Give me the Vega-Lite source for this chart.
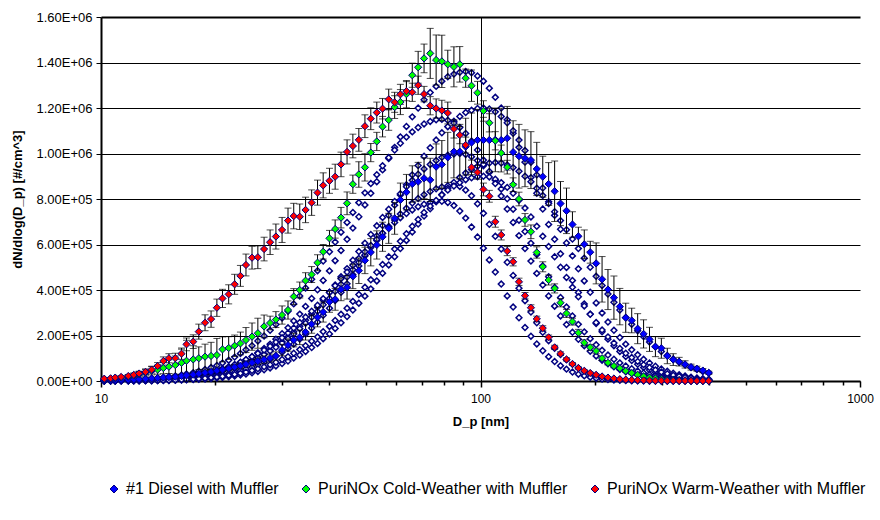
{
"$schema":"https://vega.github.io/schema/vega-lite/v6.json",
"width":759,"height":364,
"autosize":{"type":"none"},
"padding":{"left":101,"top":17,"right":20,"bottom":139},
"background":"white",
"config":{"font":"Liberation Sans","view":{"stroke":null},"axis":{"domainColor":"black","tickColor":"black","labelColor":"black","titleColor":"black","labelFont":"Liberation Sans","titleFont":"Liberation Sans"}},
"datasets":{
"filled":[
{"Dp":10.2,"s":"D","N":3000,"err":2500},{"Dp":10.6,"s":"D","N":3500,"err":2500},{"Dp":10.9,"s":"D","N":4000,"err":2600},{"Dp":11.3,"s":"D","N":5000,"err":2800},{"Dp":11.8,"s":"D","N":6000,"err":2900},{"Dp":12.2,"s":"D","N":7000,"err":3100},{"Dp":12.6,"s":"D","N":8000,"err":3200},{"Dp":13.1,"s":"D","N":9500,"err":3400},{"Dp":13.6,"s":"D","N":11000,"err":3700},{"Dp":14.1,"s":"D","N":13000,"err":4000},{"Dp":14.6,"s":"D","N":15000,"err":4300},{"Dp":15.1,"s":"D","N":17000,"err":4600},{"Dp":15.7,"s":"D","N":19000,"err":4900},{"Dp":16.3,"s":"D","N":22000,"err":5300},{"Dp":16.8,"s":"D","N":25000,"err":5800},{"Dp":17.5,"s":"D","N":28000,"err":6200},{"Dp":18.1,"s":"D","N":32000,"err":6800},{"Dp":18.8,"s":"D","N":36000,"err":7400},{"Dp":19.5,"s":"D","N":40000,"err":8000},{"Dp":20.2,"s":"D","N":45000,"err":8800},{"Dp":20.9,"s":"D","N":50000,"err":9500},{"Dp":21.7,"s":"D","N":55000,"err":10000},{"Dp":22.5,"s":"D","N":61000,"err":11000},{"Dp":23.3,"s":"D","N":67000,"err":12000},{"Dp":24.1,"s":"D","N":74000,"err":13000},{"Dp":25,"s":"D","N":80000,"err":14000},{"Dp":25.9,"s":"D","N":87000,"err":15000},{"Dp":26.9,"s":"D","N":94000,"err":16000},{"Dp":27.9,"s":"D","N":101000,"err":17000},{"Dp":28.9,"s":"D","N":110000,"err":18000},{"Dp":30,"s":"D","N":136000,"err":25000},{"Dp":31.1,"s":"D","N":158000,"err":27000},{"Dp":32.2,"s":"D","N":180000,"err":30000},{"Dp":33.4,"s":"D","N":192000,"err":32000},{"Dp":34.6,"s":"D","N":215000,"err":35000},{"Dp":35.9,"s":"D","N":250000,"err":40000},{"Dp":37.2,"s":"D","N":280000,"err":42000},{"Dp":38.5,"s":"D","N":303000,"err":44000},{"Dp":40,"s":"D","N":348000,"err":46000},{"Dp":41.4,"s":"D","N":359000,"err":48000},{"Dp":42.9,"s":"D","N":403000,"err":50000},{"Dp":44.5,"s":"D","N":412000,"err":52000},{"Dp":46.1,"s":"D","N":460000,"err":54000},{"Dp":47.8,"s":"D","N":485000,"err":56000},{"Dp":49.6,"s":"D","N":530000,"err":58000},{"Dp":51.4,"s":"D","N":566000,"err":60000},{"Dp":53.3,"s":"D","N":598000,"err":62000},{"Dp":55.2,"s":"D","N":634000,"err":64000},{"Dp":57.3,"s":"D","N":671000,"err":66000},{"Dp":59.4,"s":"D","N":715000,"err":70000},{"Dp":61.5,"s":"D","N":796000,"err":74000},{"Dp":63.8,"s":"D","N":830000,"err":78000},{"Dp":66.1,"s":"D","N":866000,"err":80000},{"Dp":68.5,"s":"D","N":876000,"err":85000},{"Dp":71,"s":"D","N":891000,"err":90000},{"Dp":73.7,"s":"D","N":884000,"err":95000},{"Dp":76.4,"s":"D","N":942000,"err":100000},{"Dp":79.1,"s":"D","N":952000,"err":105000},{"Dp":82,"s":"D","N":983000,"err":110000},{"Dp":85.1,"s":"D","N":1008000,"err":115000},{"Dp":88.2,"s":"D","N":1008000,"err":120000},{"Dp":91.4,"s":"D","N":1030000,"err":125000},{"Dp":94.7,"s":"D","N":1048000,"err":130000},{"Dp":98.2,"s":"D","N":1059000,"err":135000},{"Dp":101.8,"s":"D","N":1059000,"err":100000},{"Dp":105.5,"s":"D","N":1059000,"err":140000},{"Dp":109.4,"s":"D","N":1060000,"err":140000},{"Dp":113.4,"s":"D","N":1059000,"err":140000},{"Dp":117.6,"s":"D","N":1067000,"err":140000},{"Dp":121.9,"s":"D","N":1006000,"err":138000},{"Dp":126.3,"s":"D","N":988000,"err":140000},{"Dp":131,"s":"D","N":979000,"err":125000},{"Dp":135.8,"s":"D","N":971000,"err":125000},{"Dp":140.7,"s":"D","N":932000,"err":117000},{"Dp":145.9,"s":"D","N":898000,"err":90000},{"Dp":151.2,"s":"D","N":866000,"err":94000},{"Dp":156.8,"s":"D","N":834000,"err":133000},{"Dp":162.5,"s":"D","N":780000,"err":97000},{"Dp":168.5,"s":"D","N":748000,"err":100000},{"Dp":174.7,"s":"D","N":688000,"err":56000},{"Dp":181.1,"s":"D","N":636000,"err":40000},{"Dp":187.7,"s":"D","N":601000,"err":63000},{"Dp":194.6,"s":"D","N":566000,"err":48000},{"Dp":201.7,"s":"D","N":517000,"err":90000},{"Dp":209.1,"s":"D","N":447000,"err":100000},{"Dp":216.7,"s":"D","N":402000,"err":88000},{"Dp":224.7,"s":"D","N":366000,"err":95000},{"Dp":232.9,"s":"D","N":327000,"err":80000},{"Dp":241.4,"s":"D","N":278000,"err":64000},{"Dp":250.3,"s":"D","N":266000,"err":54000},{"Dp":259.5,"s":"D","N":230000,"err":66000},{"Dp":269,"s":"D","N":207000,"err":62000},{"Dp":278.8,"s":"D","N":183000,"err":53000},{"Dp":289,"s":"D","N":151000,"err":44000},{"Dp":299.6,"s":"D","N":144000,"err":44000},{"Dp":310.6,"s":"D","N":110000,"err":34000},{"Dp":322,"s":"D","N":94000,"err":26000},{"Dp":333.8,"s":"D","N":85000,"err":19000},{"Dp":346,"s":"D","N":73000,"err":16000},{"Dp":358.7,"s":"D","N":61000,"err":13000},{"Dp":371.8,"s":"D","N":54000,"err":11000},{"Dp":385.4,"s":"D","N":46000,"err":9000},{"Dp":399.5,"s":"D","N":36000,"err":7000},
{"Dp":10.2,"s":"C","N":8000,"err":3200},{"Dp":10.6,"s":"C","N":10000,"err":4000},{"Dp":10.9,"s":"C","N":12000,"err":4800},{"Dp":11.3,"s":"C","N":15000,"err":6000},{"Dp":11.8,"s":"C","N":19000,"err":7600},{"Dp":12.2,"s":"C","N":24000,"err":9600},{"Dp":12.6,"s":"C","N":30000,"err":12000},{"Dp":13.1,"s":"C","N":37000,"err":15000},{"Dp":13.6,"s":"C","N":45000,"err":18000},{"Dp":14.1,"s":"C","N":50000,"err":20000},{"Dp":14.6,"s":"C","N":57000,"err":25000},{"Dp":15.1,"s":"C","N":63000,"err":30000},{"Dp":15.7,"s":"C","N":70000,"err":40000},{"Dp":16.3,"s":"C","N":80000,"err":60000},{"Dp":16.8,"s":"C","N":89000,"err":90000},{"Dp":17.5,"s":"C","N":95000,"err":60000},{"Dp":18.1,"s":"C","N":100000,"err":50000},{"Dp":18.8,"s":"C","N":107000,"err":55000},{"Dp":19.5,"s":"C","N":110000,"err":60000},{"Dp":20.2,"s":"C","N":114000,"err":73000},{"Dp":20.9,"s":"C","N":139000,"err":55000},{"Dp":21.7,"s":"C","N":145000,"err":50000},{"Dp":22.5,"s":"C","N":155000,"err":47000},{"Dp":23.3,"s":"C","N":165000,"err":50000},{"Dp":24.1,"s":"C","N":180000,"err":55000},{"Dp":25,"s":"C","N":195000,"err":60000},{"Dp":25.9,"s":"C","N":210000,"err":66000},{"Dp":26.9,"s":"C","N":240000,"err":50000},{"Dp":27.9,"s":"C","N":255000,"err":30000},{"Dp":28.9,"s":"C","N":270000,"err":35000},{"Dp":30,"s":"C","N":290000,"err":40000},{"Dp":31.1,"s":"C","N":312000,"err":40000},{"Dp":32.2,"s":"C","N":371000,"err":35000},{"Dp":33.4,"s":"C","N":400000,"err":35000},{"Dp":34.6,"s":"C","N":441000,"err":35000},{"Dp":35.9,"s":"C","N":468000,"err":35000},{"Dp":37.2,"s":"C","N":520000,"err":35000},{"Dp":38.5,"s":"C","N":568000,"err":32000},{"Dp":40,"s":"C","N":627000,"err":35000},{"Dp":41.4,"s":"C","N":668000,"err":40000},{"Dp":42.9,"s":"C","N":718000,"err":45000},{"Dp":44.5,"s":"C","N":781000,"err":50000},{"Dp":46.1,"s":"C","N":865000,"err":40000},{"Dp":47.8,"s":"C","N":908000,"err":56000},{"Dp":49.6,"s":"C","N":939000,"err":60000},{"Dp":51.4,"s":"C","N":1004000,"err":40000},{"Dp":53.3,"s":"C","N":1053000,"err":40000},{"Dp":55.2,"s":"C","N":1118000,"err":45000},{"Dp":57.3,"s":"C","N":1147000,"err":45000},{"Dp":59.4,"s":"C","N":1204000,"err":50000},{"Dp":61.5,"s":"C","N":1226000,"err":55000},{"Dp":63.8,"s":"C","N":1261000,"err":60000},{"Dp":66.1,"s":"C","N":1344000,"err":53000},{"Dp":68.5,"s":"C","N":1379000,"err":70000},{"Dp":71,"s":"C","N":1418000,"err":63000},{"Dp":73.7,"s":"C","N":1440000,"err":110000},{"Dp":76.4,"s":"C","N":1411000,"err":110000},{"Dp":79.1,"s":"C","N":1405000,"err":115000},{"Dp":82,"s":"C","N":1392000,"err":62000},{"Dp":85.1,"s":"C","N":1381000,"err":88000},{"Dp":88.2,"s":"C","N":1392000,"err":78000},{"Dp":91.4,"s":"C","N":1331000,"err":40000},{"Dp":94.7,"s":"C","N":1298000,"err":69000},{"Dp":98.2,"s":"C","N":1267000,"err":50000},{"Dp":101.8,"s":"C","N":1187000,"err":45000},{"Dp":105.5,"s":"C","N":1135000,"err":40000},{"Dp":109.4,"s":"C","N":1056000,"err":40000},{"Dp":113.4,"s":"C","N":1002000,"err":35000},{"Dp":117.6,"s":"C","N":940000,"err":30000},{"Dp":121.9,"s":"C","N":863000,"err":30000},{"Dp":126.3,"s":"C","N":800000,"err":30000},{"Dp":131,"s":"C","N":708000,"err":28000},{"Dp":135.8,"s":"C","N":656000,"err":30000},{"Dp":140.7,"s":"C","N":565000,"err":25000},{"Dp":145.9,"s":"C","N":502000,"err":22000},{"Dp":151.2,"s":"C","N":444000,"err":22000},{"Dp":156.8,"s":"C","N":407000,"err":20000},{"Dp":162.5,"s":"C","N":344000,"err":18000},{"Dp":168.5,"s":"C","N":297000,"err":18000},{"Dp":174.7,"s":"C","N":261000,"err":15000},{"Dp":181.1,"s":"C","N":212000,"err":15000},{"Dp":187.7,"s":"C","N":168000,"err":13000},{"Dp":194.6,"s":"C","N":148000,"err":13000},{"Dp":201.7,"s":"C","N":132000,"err":12000},{"Dp":209.1,"s":"C","N":100000,"err":10000},{"Dp":216.7,"s":"C","N":80000,"err":9000},{"Dp":224.7,"s":"C","N":66000,"err":8000},{"Dp":232.9,"s":"C","N":56000,"err":7000},{"Dp":241.4,"s":"C","N":44000,"err":6000},{"Dp":250.3,"s":"C","N":35000,"err":5000},{"Dp":259.5,"s":"C","N":27000,"err":4000},{"Dp":269,"s":"C","N":20000,"err":3500},{"Dp":278.8,"s":"C","N":15000,"err":3000},{"Dp":289,"s":"C","N":11000,"err":2500},{"Dp":299.6,"s":"C","N":8000,"err":2000},{"Dp":310.6,"s":"C","N":6000,"err":1500},{"Dp":322,"s":"C","N":4500,"err":1200},{"Dp":333.8,"s":"C","N":3500,"err":1000},{"Dp":346,"s":"C","N":2500,"err":800},{"Dp":358.7,"s":"C","N":2000,"err":600},{"Dp":371.8,"s":"C","N":1500,"err":500},{"Dp":385.4,"s":"C","N":1000,"err":400},{"Dp":399.5,"s":"C","N":1000,"err":400},
{"Dp":10.2,"s":"W","N":10000,"err":3000},{"Dp":10.6,"s":"W","N":12000,"err":3600},{"Dp":10.9,"s":"W","N":15000,"err":4500},{"Dp":11.3,"s":"W","N":18000,"err":5400},{"Dp":11.8,"s":"W","N":22000,"err":6600},{"Dp":12.2,"s":"W","N":27000,"err":8100},{"Dp":12.6,"s":"W","N":33000,"err":9900},{"Dp":13.1,"s":"W","N":40000,"err":12000},{"Dp":13.6,"s":"W","N":50000,"err":15000},{"Dp":14.1,"s":"W","N":66000,"err":15000},{"Dp":14.6,"s":"W","N":88000,"err":18000},{"Dp":15.1,"s":"W","N":100000,"err":20000},{"Dp":15.7,"s":"W","N":100000,"err":22000},{"Dp":16.3,"s":"W","N":120000,"err":25000},{"Dp":16.8,"s":"W","N":161000,"err":28000},{"Dp":17.5,"s":"W","N":173000,"err":30000},{"Dp":18.1,"s":"W","N":217000,"err":33000},{"Dp":18.8,"s":"W","N":256000,"err":35000},{"Dp":19.5,"s":"W","N":272000,"err":36000},{"Dp":20.2,"s":"W","N":322000,"err":38000},{"Dp":20.9,"s":"W","N":363000,"err":40000},{"Dp":21.7,"s":"W","N":381000,"err":42000},{"Dp":22.5,"s":"W","N":425000,"err":44000},{"Dp":23.3,"s":"W","N":462000,"err":46000},{"Dp":24.1,"s":"W","N":510000,"err":48000},{"Dp":25,"s":"W","N":542000,"err":50000},{"Dp":25.9,"s":"W","N":544000,"err":50000},{"Dp":26.9,"s":"W","N":580000,"err":52000},{"Dp":27.9,"s":"W","N":610000,"err":54000},{"Dp":28.9,"s":"W","N":635000,"err":55000},{"Dp":30,"s":"W","N":664000,"err":55000},{"Dp":31.1,"s":"W","N":705000,"err":55000},{"Dp":32.2,"s":"W","N":725000,"err":56000},{"Dp":33.4,"s":"W","N":722000,"err":56000},{"Dp":34.6,"s":"W","N":752000,"err":56000},{"Dp":35.9,"s":"W","N":784000,"err":56000},{"Dp":37.2,"s":"W","N":828000,"err":55000},{"Dp":38.5,"s":"W","N":860000,"err":55000},{"Dp":40,"s":"W","N":880000,"err":55000},{"Dp":41.4,"s":"W","N":898000,"err":55000},{"Dp":42.9,"s":"W","N":952000,"err":54000},{"Dp":44.5,"s":"W","N":1007000,"err":53000},{"Dp":46.1,"s":"W","N":1033000,"err":52000},{"Dp":47.8,"s":"W","N":1060000,"err":50000},{"Dp":49.6,"s":"W","N":1120000,"err":50000},{"Dp":51.4,"s":"W","N":1153000,"err":48000},{"Dp":53.3,"s":"W","N":1180000,"err":46000},{"Dp":55.2,"s":"W","N":1197000,"err":45000},{"Dp":57.3,"s":"W","N":1238000,"err":45000},{"Dp":59.4,"s":"W","N":1225000,"err":44000},{"Dp":61.5,"s":"W","N":1260000,"err":44000},{"Dp":63.8,"s":"W","N":1274000,"err":42000},{"Dp":66.1,"s":"W","N":1269000,"err":40000},{"Dp":68.5,"s":"W","N":1300000,"err":40000},{"Dp":71,"s":"W","N":1261000,"err":34000},{"Dp":73.7,"s":"W","N":1210000,"err":40000},{"Dp":76.4,"s":"W","N":1198000,"err":42000},{"Dp":79.1,"s":"W","N":1189000,"err":45000},{"Dp":82,"s":"W","N":1178000,"err":48000},{"Dp":85.1,"s":"W","N":1108000,"err":40000},{"Dp":88.2,"s":"W","N":1081000,"err":38000},{"Dp":91.4,"s":"W","N":1037000,"err":35000},{"Dp":94.7,"s":"W","N":939000,"err":32000},{"Dp":98.2,"s":"W","N":917000,"err":30000},{"Dp":101.8,"s":"W","N":842000,"err":28000},{"Dp":105.5,"s":"W","N":812000,"err":26000},{"Dp":109.4,"s":"W","N":700000,"err":24000},{"Dp":113.4,"s":"W","N":642000,"err":22000},{"Dp":117.6,"s":"W","N":571000,"err":20000},{"Dp":121.9,"s":"W","N":524000,"err":18000},{"Dp":126.3,"s":"W","N":436000,"err":16000},{"Dp":131,"s":"W","N":375000,"err":14000},{"Dp":135.8,"s":"W","N":322000,"err":13000},{"Dp":140.7,"s":"W","N":273000,"err":12000},{"Dp":145.9,"s":"W","N":232000,"err":11000},{"Dp":151.2,"s":"W","N":192000,"err":10000},{"Dp":156.8,"s":"W","N":148000,"err":9000},{"Dp":162.5,"s":"W","N":120000,"err":8000},{"Dp":168.5,"s":"W","N":95000,"err":7000},{"Dp":174.7,"s":"W","N":75000,"err":6000},{"Dp":181.1,"s":"W","N":57000,"err":5000},{"Dp":187.7,"s":"W","N":45000,"err":4500},{"Dp":194.6,"s":"W","N":35000,"err":4000},{"Dp":201.7,"s":"W","N":27000,"err":3500},{"Dp":209.1,"s":"W","N":20000,"err":3000},{"Dp":216.7,"s":"W","N":15000,"err":2500},{"Dp":224.7,"s":"W","N":11000,"err":2000},{"Dp":232.9,"s":"W","N":8000,"err":1600},{"Dp":241.4,"s":"W","N":6000,"err":1200},{"Dp":250.3,"s":"W","N":4500,"err":900},{"Dp":259.5,"s":"W","N":3500,"err":700},{"Dp":269,"s":"W","N":2700,"err":500},{"Dp":278.8,"s":"W","N":2000,"err":400},{"Dp":289,"s":"W","N":1500,"err":300},{"Dp":299.6,"s":"W","N":1200,"err":240},{"Dp":310.6,"s":"W","N":1000,"err":200},{"Dp":322,"s":"W","N":800,"err":160},{"Dp":333.8,"s":"W","N":600,"err":120},{"Dp":346,"s":"W","N":500,"err":100},{"Dp":358.7,"s":"W","N":400,"err":80},{"Dp":371.8,"s":"W","N":300,"err":60},{"Dp":385.4,"s":"W","N":300,"err":60},{"Dp":399.5,"s":"W","N":200,"err":40}
],
"runs":[
{"Dp":10.2,"r":1,"N":1000},{"Dp":10.6,"r":1,"N":1200},{"Dp":10.9,"r":1,"N":1500},{"Dp":11.3,"r":1,"N":1900},{"Dp":11.8,"r":1,"N":2400},{"Dp":12.2,"r":1,"N":3000},{"Dp":12.6,"r":1,"N":3700},{"Dp":13.1,"r":1,"N":4600},{"Dp":13.6,"r":1,"N":5600},{"Dp":14.1,"r":1,"N":6900},{"Dp":14.6,"r":1,"N":8400},{"Dp":15.1,"r":1,"N":10300},{"Dp":15.7,"r":1,"N":12500},{"Dp":16.3,"r":1,"N":15100},{"Dp":16.8,"r":1,"N":18200},{"Dp":17.5,"r":1,"N":21900},{"Dp":18.1,"r":1,"N":26100},{"Dp":18.8,"r":1,"N":31000},{"Dp":19.5,"r":1,"N":36900},{"Dp":20.2,"r":1,"N":43400},{"Dp":20.9,"r":1,"N":51000},{"Dp":21.7,"r":1,"N":59700},{"Dp":22.5,"r":1,"N":69600},{"Dp":23.3,"r":1,"N":81100},{"Dp":24.1,"r":1,"N":93800},{"Dp":25,"r":1,"N":108000},{"Dp":25.9,"r":1,"N":124000},{"Dp":26.9,"r":1,"N":143000},{"Dp":27.9,"r":1,"N":162000},{"Dp":28.9,"r":1,"N":184000},{"Dp":30,"r":1,"N":208000},{"Dp":31.1,"r":1,"N":234000},{"Dp":32.2,"r":1,"N":264000},{"Dp":33.4,"r":1,"N":294000},{"Dp":34.6,"r":1,"N":328000},{"Dp":35.9,"r":1,"N":363000},{"Dp":37.2,"r":1,"N":401000},{"Dp":38.5,"r":1,"N":442000},{"Dp":40,"r":1,"N":484000},{"Dp":41.4,"r":1,"N":529000},{"Dp":42.9,"r":1,"N":574000},{"Dp":44.5,"r":1,"N":623000},{"Dp":46.1,"r":1,"N":672000},{"Dp":47.8,"r":1,"N":722000},{"Dp":49.6,"r":1,"N":774000},{"Dp":51.4,"r":1,"N":825000},{"Dp":53.3,"r":1,"N":876000},{"Dp":55.2,"r":1,"N":928000},{"Dp":57.3,"r":1,"N":978000},{"Dp":59.4,"r":1,"N":1027000},{"Dp":61.5,"r":1,"N":1073000},{"Dp":63.8,"r":1,"N":1119000},{"Dp":66.1,"r":1,"N":1161000},{"Dp":68.5,"r":1,"N":1200000},{"Dp":71,"r":1,"N":1236000},{"Dp":73.7,"r":1,"N":1268000},{"Dp":76.4,"r":1,"N":1295000},{"Dp":79.1,"r":1,"N":1318000},{"Dp":82,"r":1,"N":1337000},{"Dp":85.1,"r":1,"N":1349000},{"Dp":88.2,"r":1,"N":1357000},{"Dp":91.4,"r":1,"N":1360000},{"Dp":94.7,"r":1,"N":1355000},{"Dp":98.2,"r":1,"N":1341000},{"Dp":101.8,"r":1,"N":1318000},{"Dp":105.5,"r":1,"N":1287000},{"Dp":109.4,"r":1,"N":1247000},{"Dp":113.4,"r":1,"N":1200000},{"Dp":117.6,"r":1,"N":1148000},{"Dp":121.9,"r":1,"N":1089000},{"Dp":126.3,"r":1,"N":1027000},{"Dp":131,"r":1,"N":962000},{"Dp":135.8,"r":1,"N":894000},{"Dp":140.7,"r":1,"N":825000},{"Dp":145.9,"r":1,"N":756000},{"Dp":151.2,"r":1,"N":688000},{"Dp":156.8,"r":1,"N":623000},{"Dp":162.5,"r":1,"N":559000},{"Dp":168.5,"r":1,"N":499000},{"Dp":174.7,"r":1,"N":442000},{"Dp":181.1,"r":1,"N":389000},{"Dp":187.7,"r":1,"N":339000},{"Dp":194.6,"r":1,"N":294000},{"Dp":201.7,"r":1,"N":253000},{"Dp":209.1,"r":1,"N":216000},{"Dp":216.7,"r":1,"N":184000},{"Dp":224.7,"r":1,"N":155000},{"Dp":232.9,"r":1,"N":130000},{"Dp":241.4,"r":1,"N":108000},{"Dp":250.3,"r":1,"N":89600},{"Dp":259.5,"r":1,"N":73400},{"Dp":269,"r":1,"N":59700},{"Dp":278.8,"r":1,"N":48300},{"Dp":289,"r":1,"N":38800},{"Dp":299.6,"r":1,"N":31000},{"Dp":310.6,"r":1,"N":24500},{"Dp":322,"r":1,"N":19300},{"Dp":333.8,"r":1,"N":15100},{"Dp":346,"r":1,"N":11700},{"Dp":358.7,"r":1,"N":9000},{"Dp":371.8,"r":1,"N":6900},{"Dp":385.4,"r":1,"N":5300},{"Dp":399.5,"r":1,"N":3900},
{"Dp":10.2,"r":2,"N":500},{"Dp":10.6,"r":2,"N":600},{"Dp":10.9,"r":2,"N":700},{"Dp":11.3,"r":2,"N":800},{"Dp":11.8,"r":2,"N":1100},{"Dp":12.2,"r":2,"N":1300},{"Dp":12.6,"r":2,"N":1700},{"Dp":13.1,"r":2,"N":2200},{"Dp":13.6,"r":2,"N":2600},{"Dp":14.1,"r":2,"N":3200},{"Dp":14.6,"r":2,"N":4100},{"Dp":15.1,"r":2,"N":4900},{"Dp":15.7,"r":2,"N":6100},{"Dp":16.3,"r":2,"N":7400},{"Dp":16.8,"r":2,"N":9100},{"Dp":17.5,"r":2,"N":11000},{"Dp":18.1,"r":2,"N":13300},{"Dp":18.8,"r":2,"N":16100},{"Dp":19.5,"r":2,"N":19300},{"Dp":20.2,"r":2,"N":23000},{"Dp":20.9,"r":2,"N":27400},{"Dp":21.7,"r":2,"N":32500},{"Dp":22.5,"r":2,"N":38300},{"Dp":23.3,"r":2,"N":45000},{"Dp":24.1,"r":2,"N":52700},{"Dp":25,"r":2,"N":61400},{"Dp":25.9,"r":2,"N":71500},{"Dp":26.9,"r":2,"N":82800},{"Dp":27.9,"r":2,"N":95500},{"Dp":28.9,"r":2,"N":110000},{"Dp":30,"r":2,"N":126000},{"Dp":31.1,"r":2,"N":143000},{"Dp":32.2,"r":2,"N":162000},{"Dp":33.4,"r":2,"N":184000},{"Dp":34.6,"r":2,"N":206000},{"Dp":35.9,"r":2,"N":233000},{"Dp":37.2,"r":2,"N":259000},{"Dp":38.5,"r":2,"N":289000},{"Dp":40,"r":2,"N":320000},{"Dp":41.4,"r":2,"N":354000},{"Dp":42.9,"r":2,"N":390000},{"Dp":44.5,"r":2,"N":427000},{"Dp":46.1,"r":2,"N":467000},{"Dp":47.8,"r":2,"N":506000},{"Dp":49.6,"r":2,"N":550000},{"Dp":51.4,"r":2,"N":593000},{"Dp":53.3,"r":2,"N":637000},{"Dp":55.2,"r":2,"N":683000},{"Dp":57.3,"r":2,"N":728000},{"Dp":59.4,"r":2,"N":773000},{"Dp":61.5,"r":2,"N":818000},{"Dp":63.8,"r":2,"N":863000},{"Dp":66.1,"r":2,"N":906000},{"Dp":68.5,"r":2,"N":947000},{"Dp":71,"r":2,"N":988000},{"Dp":73.7,"r":2,"N":1025000},{"Dp":76.4,"r":2,"N":1059000},{"Dp":79.1,"r":2,"N":1091000},{"Dp":82,"r":2,"N":1118000},{"Dp":85.1,"r":2,"N":1142000},{"Dp":88.2,"r":2,"N":1163000},{"Dp":91.4,"r":2,"N":1180000},{"Dp":94.7,"r":2,"N":1190000},{"Dp":98.2,"r":2,"N":1198000},{"Dp":101.8,"r":2,"N":1200000},{"Dp":105.5,"r":2,"N":1196000},{"Dp":109.4,"r":2,"N":1183000},{"Dp":113.4,"r":2,"N":1163000},{"Dp":117.6,"r":2,"N":1135000},{"Dp":121.9,"r":2,"N":1100000},{"Dp":126.3,"r":2,"N":1059000},{"Dp":131,"r":2,"N":1013000},{"Dp":135.8,"r":2,"N":961000},{"Dp":140.7,"r":2,"N":906000},{"Dp":145.9,"r":2,"N":848000},{"Dp":151.2,"r":2,"N":788000},{"Dp":156.8,"r":2,"N":728000},{"Dp":162.5,"r":2,"N":667000},{"Dp":168.5,"r":2,"N":607000},{"Dp":174.7,"r":2,"N":550000},{"Dp":181.1,"r":2,"N":493000},{"Dp":187.7,"r":2,"N":440000},{"Dp":194.6,"r":2,"N":390000},{"Dp":201.7,"r":2,"N":343000},{"Dp":209.1,"r":2,"N":299000},{"Dp":216.7,"r":2,"N":259000},{"Dp":224.7,"r":2,"N":223000},{"Dp":232.9,"r":2,"N":191000},{"Dp":241.4,"r":2,"N":162000},{"Dp":250.3,"r":2,"N":137000},{"Dp":259.5,"r":2,"N":115000},{"Dp":269,"r":2,"N":95500},{"Dp":278.8,"r":2,"N":79100},{"Dp":289,"r":2,"N":64800},{"Dp":299.6,"r":2,"N":52700},{"Dp":310.6,"r":2,"N":42600},{"Dp":322,"r":2,"N":34200},{"Dp":333.8,"r":2,"N":27400},{"Dp":346,"r":2,"N":21600},{"Dp":358.7,"r":2,"N":17000},{"Dp":371.8,"r":2,"N":13300},{"Dp":385.4,"r":2,"N":10300},{"Dp":399.5,"r":2,"N":7900},
{"Dp":10.2,"r":3,"N":900},{"Dp":10.6,"r":3,"N":1100},{"Dp":10.9,"r":3,"N":1400},{"Dp":11.3,"r":3,"N":1800},{"Dp":11.8,"r":3,"N":2200},{"Dp":12.2,"r":3,"N":2700},{"Dp":12.6,"r":3,"N":3400},{"Dp":13.1,"r":3,"N":4100},{"Dp":13.6,"r":3,"N":5100},{"Dp":14.1,"r":3,"N":6200},{"Dp":14.6,"r":3,"N":7600},{"Dp":15.1,"r":3,"N":9200},{"Dp":15.7,"r":3,"N":11100},{"Dp":16.3,"r":3,"N":13400},{"Dp":16.8,"r":3,"N":16100},{"Dp":17.5,"r":3,"N":19200},{"Dp":18.1,"r":3,"N":22800},{"Dp":18.8,"r":3,"N":27100},{"Dp":19.5,"r":3,"N":31900},{"Dp":20.2,"r":3,"N":37500},{"Dp":20.9,"r":3,"N":43900},{"Dp":21.7,"r":3,"N":51200},{"Dp":22.5,"r":3,"N":59600},{"Dp":23.3,"r":3,"N":69000},{"Dp":24.1,"r":3,"N":79600},{"Dp":25,"r":3,"N":91500},{"Dp":25.9,"r":3,"N":105000},{"Dp":26.9,"r":3,"N":119000},{"Dp":27.9,"r":3,"N":135000},{"Dp":28.9,"r":3,"N":153000},{"Dp":30,"r":3,"N":172000},{"Dp":31.1,"r":3,"N":194000},{"Dp":32.2,"r":3,"N":216000},{"Dp":33.4,"r":3,"N":241000},{"Dp":34.6,"r":3,"N":267000},{"Dp":35.9,"r":3,"N":295000},{"Dp":37.2,"r":3,"N":325000},{"Dp":38.5,"r":3,"N":356000},{"Dp":40,"r":3,"N":389000},{"Dp":41.4,"r":3,"N":422000},{"Dp":42.9,"r":3,"N":458000},{"Dp":44.5,"r":3,"N":494000},{"Dp":46.1,"r":3,"N":531000},{"Dp":47.8,"r":3,"N":569000},{"Dp":49.6,"r":3,"N":606000},{"Dp":51.4,"r":3,"N":644000},{"Dp":53.3,"r":3,"N":682000},{"Dp":55.2,"r":3,"N":719000},{"Dp":57.3,"r":3,"N":755000},{"Dp":59.4,"r":3,"N":789000},{"Dp":61.5,"r":3,"N":823000},{"Dp":63.8,"r":3,"N":854000},{"Dp":66.1,"r":3,"N":882000},{"Dp":68.5,"r":3,"N":909000},{"Dp":71,"r":3,"N":932000},{"Dp":73.7,"r":3,"N":952000},{"Dp":76.4,"r":3,"N":969000},{"Dp":79.1,"r":3,"N":983000},{"Dp":82,"r":3,"N":992000},{"Dp":85.1,"r":3,"N":998000},{"Dp":88.2,"r":3,"N":1000000},{"Dp":91.4,"r":3,"N":996000},{"Dp":94.7,"r":3,"N":986000},{"Dp":98.2,"r":3,"N":969000},{"Dp":101.8,"r":3,"N":946000},{"Dp":105.5,"r":3,"N":917000},{"Dp":109.4,"r":3,"N":882000},{"Dp":113.4,"r":3,"N":844000},{"Dp":117.6,"r":3,"N":801000},{"Dp":121.9,"r":3,"N":755000},{"Dp":126.3,"r":3,"N":707000},{"Dp":131,"r":3,"N":657000},{"Dp":135.8,"r":3,"N":606000},{"Dp":140.7,"r":3,"N":556000},{"Dp":145.9,"r":3,"N":506000},{"Dp":151.2,"r":3,"N":458000},{"Dp":156.8,"r":3,"N":411000},{"Dp":162.5,"r":3,"N":367000},{"Dp":168.5,"r":3,"N":325000},{"Dp":174.7,"r":3,"N":286000},{"Dp":181.1,"r":3,"N":249000},{"Dp":187.7,"r":3,"N":216000},{"Dp":194.6,"r":3,"N":186000},{"Dp":201.7,"r":3,"N":159000},{"Dp":209.1,"r":3,"N":135000},{"Dp":216.7,"r":3,"N":114000},{"Dp":224.7,"r":3,"N":95600},{"Dp":232.9,"r":3,"N":79600},{"Dp":241.4,"r":3,"N":65900},{"Dp":250.3,"r":3,"N":54000},{"Dp":259.5,"r":3,"N":43900},{"Dp":269,"r":3,"N":35500},{"Dp":278.8,"r":3,"N":28500},{"Dp":289,"r":3,"N":22800},{"Dp":299.6,"r":3,"N":18000},{"Dp":310.6,"r":3,"N":14200},{"Dp":322,"r":3,"N":11100},{"Dp":333.8,"r":3,"N":8600},{"Dp":346,"r":3,"N":6600},{"Dp":358.7,"r":3,"N":5100},{"Dp":371.8,"r":3,"N":3900},{"Dp":385.4,"r":3,"N":2900},{"Dp":399.5,"r":3,"N":2200},
{"Dp":10.2,"r":4,"N":950},{"Dp":10.6,"r":4,"N":1200},{"Dp":10.9,"r":4,"N":1500},{"Dp":11.3,"r":4,"N":1900},{"Dp":11.8,"r":4,"N":2300},{"Dp":12.2,"r":4,"N":2900},{"Dp":12.6,"r":4,"N":3500},{"Dp":13.1,"r":4,"N":4400},{"Dp":13.6,"r":4,"N":5300},{"Dp":14.1,"r":4,"N":6500},{"Dp":14.6,"r":4,"N":7900},{"Dp":15.1,"r":4,"N":9500},{"Dp":15.7,"r":4,"N":11500},{"Dp":16.3,"r":4,"N":13800},{"Dp":16.8,"r":4,"N":16500},{"Dp":17.5,"r":4,"N":19600},{"Dp":18.1,"r":4,"N":23300},{"Dp":18.8,"r":4,"N":27400},{"Dp":19.5,"r":4,"N":32300},{"Dp":20.2,"r":4,"N":37800},{"Dp":20.9,"r":4,"N":44000},{"Dp":21.7,"r":4,"N":51300},{"Dp":22.5,"r":4,"N":59300},{"Dp":23.3,"r":4,"N":68500},{"Dp":24.1,"r":4,"N":78700},{"Dp":25,"r":4,"N":90300},{"Dp":25.9,"r":4,"N":102000},{"Dp":26.9,"r":4,"N":116000},{"Dp":27.9,"r":4,"N":132000},{"Dp":28.9,"r":4,"N":148000},{"Dp":30,"r":4,"N":167000},{"Dp":31.1,"r":4,"N":186000},{"Dp":32.2,"r":4,"N":207000},{"Dp":33.4,"r":4,"N":230000},{"Dp":34.6,"r":4,"N":254000},{"Dp":35.9,"r":4,"N":280000},{"Dp":37.2,"r":4,"N":306000},{"Dp":38.5,"r":4,"N":335000},{"Dp":40,"r":4,"N":363000},{"Dp":41.4,"r":4,"N":394000},{"Dp":42.9,"r":4,"N":425000},{"Dp":44.5,"r":4,"N":457000},{"Dp":46.1,"r":4,"N":489000},{"Dp":47.8,"r":4,"N":522000},{"Dp":49.6,"r":4,"N":554000},{"Dp":51.4,"r":4,"N":587000},{"Dp":53.3,"r":4,"N":618000},{"Dp":55.2,"r":4,"N":649000},{"Dp":57.3,"r":4,"N":679000},{"Dp":59.4,"r":4,"N":708000},{"Dp":61.5,"r":4,"N":734000},{"Dp":63.8,"r":4,"N":759000},{"Dp":66.1,"r":4,"N":782000},{"Dp":68.5,"r":4,"N":802000},{"Dp":71,"r":4,"N":819000},{"Dp":73.7,"r":4,"N":833000},{"Dp":76.4,"r":4,"N":845000},{"Dp":79.1,"r":4,"N":853000},{"Dp":82,"r":4,"N":858000},{"Dp":85.1,"r":4,"N":860000},{"Dp":88.2,"r":4,"N":855000},{"Dp":91.4,"r":4,"N":839000},{"Dp":94.7,"r":4,"N":814000},{"Dp":98.2,"r":4,"N":779000},{"Dp":101.8,"r":4,"N":737000},{"Dp":105.5,"r":4,"N":689000},{"Dp":109.4,"r":4,"N":636000},{"Dp":113.4,"r":4,"N":580000},{"Dp":117.6,"r":4,"N":522000},{"Dp":121.9,"r":4,"N":464000},{"Dp":126.3,"r":4,"N":408000},{"Dp":131,"r":4,"N":353000},{"Dp":135.8,"r":4,"N":303000},{"Dp":140.7,"r":4,"N":256000},{"Dp":145.9,"r":4,"N":214000},{"Dp":151.2,"r":4,"N":177000},{"Dp":156.8,"r":4,"N":144000},{"Dp":162.5,"r":4,"N":116000},{"Dp":168.5,"r":4,"N":92900},{"Dp":174.7,"r":4,"N":73100},{"Dp":181.1,"r":4,"N":56800},{"Dp":187.7,"r":4,"N":43000},{"Dp":194.6,"r":4,"N":32700},{"Dp":201.7,"r":4,"N":24500},{"Dp":209.1,"r":4,"N":18100},{"Dp":216.7,"r":4,"N":13200},{"Dp":224.7,"r":4,"N":9500},{"Dp":232.9,"r":4,"N":6800},{"Dp":241.4,"r":4,"N":4800},{"Dp":250.3,"r":4,"N":3400},{"Dp":259.5,"r":4,"N":2300},{"Dp":269,"r":4,"N":1500},{"Dp":278.8,"r":4,"N":1000},{"Dp":289,"r":4,"N":700},{"Dp":299.6,"r":4,"N":500},{"Dp":310.6,"r":4,"N":400},{"Dp":322,"r":4,"N":300},{"Dp":333.8,"r":4,"N":200},{"Dp":346,"r":4,"N":200},{"Dp":358.7,"r":4,"N":100},{"Dp":371.8,"r":4,"N":100},{"Dp":385.4,"r":4,"N":100},{"Dp":399.5,"r":4,"N":100},
{"Dp":10.2,"r":5,"N":1400},{"Dp":10.6,"r":5,"N":1700},{"Dp":10.9,"r":5,"N":2100},{"Dp":11.3,"r":5,"N":2700},{"Dp":11.8,"r":5,"N":3200},{"Dp":12.2,"r":5,"N":4000},{"Dp":12.6,"r":5,"N":4900},{"Dp":13.1,"r":5,"N":6000},{"Dp":13.6,"r":5,"N":7300},{"Dp":14.1,"r":5,"N":8800},{"Dp":14.6,"r":5,"N":10600},{"Dp":15.1,"r":5,"N":12700},{"Dp":15.7,"r":5,"N":15200},{"Dp":16.3,"r":5,"N":18000},{"Dp":16.8,"r":5,"N":21400},{"Dp":17.5,"r":5,"N":25200},{"Dp":18.1,"r":5,"N":29600},{"Dp":18.8,"r":5,"N":34700},{"Dp":19.5,"r":5,"N":40400},{"Dp":20.2,"r":5,"N":47100},{"Dp":20.9,"r":5,"N":54500},{"Dp":21.7,"r":5,"N":62900},{"Dp":22.5,"r":5,"N":72300},{"Dp":23.3,"r":5,"N":83000},{"Dp":24.1,"r":5,"N":94000},{"Dp":25,"r":5,"N":107000},{"Dp":25.9,"r":5,"N":121000},{"Dp":26.9,"r":5,"N":136000},{"Dp":27.9,"r":5,"N":153000},{"Dp":28.9,"r":5,"N":171000},{"Dp":30,"r":5,"N":190000},{"Dp":31.1,"r":5,"N":211000},{"Dp":32.2,"r":5,"N":233000},{"Dp":33.4,"r":5,"N":257000},{"Dp":34.6,"r":5,"N":281000},{"Dp":35.9,"r":5,"N":307000},{"Dp":37.2,"r":5,"N":333000},{"Dp":38.5,"r":5,"N":362000},{"Dp":40,"r":5,"N":390000},{"Dp":41.4,"r":5,"N":419000},{"Dp":42.9,"r":5,"N":450000},{"Dp":44.5,"r":5,"N":479000},{"Dp":46.1,"r":5,"N":509000},{"Dp":47.8,"r":5,"N":539000},{"Dp":49.6,"r":5,"N":568000},{"Dp":51.4,"r":5,"N":596000},{"Dp":53.3,"r":5,"N":623000},{"Dp":55.2,"r":5,"N":650000},{"Dp":57.3,"r":5,"N":675000},{"Dp":59.4,"r":5,"N":697000},{"Dp":61.5,"r":5,"N":718000},{"Dp":63.8,"r":5,"N":736000},{"Dp":66.1,"r":5,"N":752000},{"Dp":68.5,"r":5,"N":766000},{"Dp":71,"r":5,"N":777000},{"Dp":73.7,"r":5,"N":784000},{"Dp":76.4,"r":5,"N":788000},{"Dp":79.1,"r":5,"N":790000},{"Dp":82,"r":5,"N":785000},{"Dp":85.1,"r":5,"N":771000},{"Dp":88.2,"r":5,"N":747000},{"Dp":91.4,"r":5,"N":716000},{"Dp":94.7,"r":5,"N":677000},{"Dp":98.2,"r":5,"N":633000},{"Dp":101.8,"r":5,"N":584000},{"Dp":105.5,"r":5,"N":532000},{"Dp":109.4,"r":5,"N":479000},{"Dp":113.4,"r":5,"N":426000},{"Dp":117.6,"r":5,"N":374000},{"Dp":121.9,"r":5,"N":325000},{"Dp":126.3,"r":5,"N":278000},{"Dp":131,"r":5,"N":235000},{"Dp":135.8,"r":5,"N":197000},{"Dp":140.7,"r":5,"N":163000},{"Dp":145.9,"r":5,"N":133000},{"Dp":151.2,"r":5,"N":107000},{"Dp":156.8,"r":5,"N":85300},{"Dp":162.5,"r":5,"N":67200},{"Dp":168.5,"r":5,"N":52100},{"Dp":174.7,"r":5,"N":39500},{"Dp":181.1,"r":5,"N":30000},{"Dp":187.7,"r":5,"N":22500},{"Dp":194.6,"r":5,"N":16600},{"Dp":201.7,"r":5,"N":12200},{"Dp":209.1,"r":5,"N":8800},{"Dp":216.7,"r":5,"N":6200},{"Dp":224.7,"r":5,"N":4400},{"Dp":232.9,"r":5,"N":3100},{"Dp":241.4,"r":5,"N":2100},{"Dp":250.3,"r":5,"N":1400},{"Dp":259.5,"r":5,"N":900},{"Dp":269,"r":5,"N":600},{"Dp":278.8,"r":5,"N":400},{"Dp":289,"r":5,"N":300},{"Dp":299.6,"r":5,"N":200},{"Dp":310.6,"r":5,"N":200},{"Dp":322,"r":5,"N":100},{"Dp":333.8,"r":5,"N":100},{"Dp":346,"r":5,"N":100},{"Dp":358.7,"r":5,"N":100},{"Dp":371.8,"r":5,"N":100},{"Dp":385.4,"r":5,"N":100},{"Dp":399.5,"r":5,"N":100},
{"Dp":10.2,"r":6,"N":200},{"Dp":10.6,"r":6,"N":300},{"Dp":10.9,"r":6,"N":400},{"Dp":11.3,"r":6,"N":500},{"Dp":11.8,"r":6,"N":600},{"Dp":12.2,"r":6,"N":700},{"Dp":12.6,"r":6,"N":900},{"Dp":13.1,"r":6,"N":1100},{"Dp":13.6,"r":6,"N":1300},{"Dp":14.1,"r":6,"N":1700},{"Dp":14.6,"r":6,"N":2100},{"Dp":15.1,"r":6,"N":2600},{"Dp":15.7,"r":6,"N":3300},{"Dp":16.3,"r":6,"N":3900},{"Dp":16.8,"r":6,"N":4900},{"Dp":17.5,"r":6,"N":6000},{"Dp":18.1,"r":6,"N":7300},{"Dp":18.8,"r":6,"N":8800},{"Dp":19.5,"r":6,"N":10700},{"Dp":20.2,"r":6,"N":12900},{"Dp":20.9,"r":6,"N":15500},{"Dp":21.7,"r":6,"N":18400},{"Dp":22.5,"r":6,"N":21900},{"Dp":23.3,"r":6,"N":26000},{"Dp":24.1,"r":6,"N":30600},{"Dp":25,"r":6,"N":36000},{"Dp":25.9,"r":6,"N":42100},{"Dp":26.9,"r":6,"N":49200},{"Dp":27.9,"r":6,"N":57200},{"Dp":28.9,"r":6,"N":66200},{"Dp":30,"r":6,"N":76400},{"Dp":31.1,"r":6,"N":87800},{"Dp":32.2,"r":6,"N":101000},{"Dp":33.4,"r":6,"N":114000},{"Dp":34.6,"r":6,"N":130000},{"Dp":35.9,"r":6,"N":147000},{"Dp":37.2,"r":6,"N":165000},{"Dp":38.5,"r":6,"N":186000},{"Dp":40,"r":6,"N":207000},{"Dp":41.4,"r":6,"N":231000},{"Dp":42.9,"r":6,"N":256000},{"Dp":44.5,"r":6,"N":283000},{"Dp":46.1,"r":6,"N":312000},{"Dp":47.8,"r":6,"N":342000},{"Dp":49.6,"r":6,"N":373000},{"Dp":51.4,"r":6,"N":405000},{"Dp":53.3,"r":6,"N":440000},{"Dp":55.2,"r":6,"N":474000},{"Dp":57.3,"r":6,"N":510000},{"Dp":59.4,"r":6,"N":546000},{"Dp":61.5,"r":6,"N":582000},{"Dp":63.8,"r":6,"N":618000},{"Dp":66.1,"r":6,"N":655000},{"Dp":68.5,"r":6,"N":690000},{"Dp":71,"r":6,"N":725000},{"Dp":73.7,"r":6,"N":757000},{"Dp":76.4,"r":6,"N":790000},{"Dp":79.1,"r":6,"N":820000},{"Dp":82,"r":6,"N":847000},{"Dp":85.1,"r":6,"N":873000},{"Dp":88.2,"r":6,"N":895000},{"Dp":91.4,"r":6,"N":914000},{"Dp":94.7,"r":6,"N":930000},{"Dp":98.2,"r":6,"N":944000},{"Dp":101.8,"r":6,"N":952000},{"Dp":105.5,"r":6,"N":958000},{"Dp":109.4,"r":6,"N":960000},{"Dp":113.4,"r":6,"N":958000},{"Dp":117.6,"r":6,"N":950000},{"Dp":121.9,"r":6,"N":938000},{"Dp":126.3,"r":6,"N":922000},{"Dp":131,"r":6,"N":900000},{"Dp":135.8,"r":6,"N":876000},{"Dp":140.7,"r":6,"N":847000},{"Dp":145.9,"r":6,"N":815000},{"Dp":151.2,"r":6,"N":780000},{"Dp":156.8,"r":6,"N":744000},{"Dp":162.5,"r":6,"N":705000},{"Dp":168.5,"r":6,"N":665000},{"Dp":174.7,"r":6,"N":624000},{"Dp":181.1,"r":6,"N":582000},{"Dp":187.7,"r":6,"N":540000},{"Dp":194.6,"r":6,"N":500000},{"Dp":201.7,"r":6,"N":460000},{"Dp":209.1,"r":6,"N":420000},{"Dp":216.7,"r":6,"N":382000},{"Dp":224.7,"r":6,"N":346000},{"Dp":232.9,"r":6,"N":312000},{"Dp":241.4,"r":6,"N":279000},{"Dp":250.3,"r":6,"N":249000},{"Dp":259.5,"r":6,"N":221000},{"Dp":269,"r":6,"N":195000},{"Dp":278.8,"r":6,"N":171000},{"Dp":289,"r":6,"N":150000},{"Dp":299.6,"r":6,"N":130000},{"Dp":310.6,"r":6,"N":112000},{"Dp":322,"r":6,"N":97000},{"Dp":333.8,"r":6,"N":82600},{"Dp":346,"r":6,"N":70500},{"Dp":358.7,"r":6,"N":59700},{"Dp":371.8,"r":6,"N":50300},{"Dp":385.4,"r":6,"N":42100},{"Dp":399.5,"r":6,"N":35200},
{"Dp":10.2,"r":7,"N":400},{"Dp":10.6,"r":7,"N":500},{"Dp":10.9,"r":7,"N":500},{"Dp":11.3,"r":7,"N":600},{"Dp":11.8,"r":7,"N":800},{"Dp":12.2,"r":7,"N":1000},{"Dp":12.6,"r":7,"N":1300},{"Dp":13.1,"r":7,"N":1600},{"Dp":13.6,"r":7,"N":2000},{"Dp":14.1,"r":7,"N":2400},{"Dp":14.6,"r":7,"N":3100},{"Dp":15.1,"r":7,"N":3700},{"Dp":15.7,"r":7,"N":4600},{"Dp":16.3,"r":7,"N":5600},{"Dp":16.8,"r":7,"N":6800},{"Dp":17.5,"r":7,"N":8300},{"Dp":18.1,"r":7,"N":10000},{"Dp":18.8,"r":7,"N":12100},{"Dp":19.5,"r":7,"N":14500},{"Dp":20.2,"r":7,"N":17300},{"Dp":20.9,"r":7,"N":20500},{"Dp":21.7,"r":7,"N":24400},{"Dp":22.5,"r":7,"N":28700},{"Dp":23.3,"r":7,"N":33800},{"Dp":24.1,"r":7,"N":39500},{"Dp":25,"r":7,"N":46100},{"Dp":25.9,"r":7,"N":53600},{"Dp":26.9,"r":7,"N":62100},{"Dp":27.9,"r":7,"N":71600},{"Dp":28.9,"r":7,"N":82400},{"Dp":30,"r":7,"N":94500},{"Dp":31.1,"r":7,"N":107000},{"Dp":32.2,"r":7,"N":122000},{"Dp":33.4,"r":7,"N":138000},{"Dp":34.6,"r":7,"N":155000},{"Dp":35.9,"r":7,"N":175000},{"Dp":37.2,"r":7,"N":194000},{"Dp":38.5,"r":7,"N":217000},{"Dp":40,"r":7,"N":240000},{"Dp":41.4,"r":7,"N":266000},{"Dp":42.9,"r":7,"N":293000},{"Dp":44.5,"r":7,"N":320000},{"Dp":46.1,"r":7,"N":350000},{"Dp":47.8,"r":7,"N":380000},{"Dp":49.6,"r":7,"N":412000},{"Dp":51.4,"r":7,"N":445000},{"Dp":53.3,"r":7,"N":478000},{"Dp":55.2,"r":7,"N":512000},{"Dp":57.3,"r":7,"N":546000},{"Dp":59.4,"r":7,"N":580000},{"Dp":61.5,"r":7,"N":614000},{"Dp":63.8,"r":7,"N":647000},{"Dp":66.1,"r":7,"N":680000},{"Dp":68.5,"r":7,"N":710000},{"Dp":71,"r":7,"N":741000},{"Dp":73.7,"r":7,"N":769000},{"Dp":76.4,"r":7,"N":794000},{"Dp":79.1,"r":7,"N":818000},{"Dp":82,"r":7,"N":839000},{"Dp":85.1,"r":7,"N":857000},{"Dp":88.2,"r":7,"N":872000},{"Dp":91.4,"r":7,"N":885000},{"Dp":94.7,"r":7,"N":893000},{"Dp":98.2,"r":7,"N":898000},{"Dp":101.8,"r":7,"N":900000},{"Dp":105.5,"r":7,"N":897000},{"Dp":109.4,"r":7,"N":887000},{"Dp":113.4,"r":7,"N":872000},{"Dp":117.6,"r":7,"N":851000},{"Dp":121.9,"r":7,"N":825000},{"Dp":126.3,"r":7,"N":794000},{"Dp":131,"r":7,"N":760000},{"Dp":135.8,"r":7,"N":721000},{"Dp":140.7,"r":7,"N":680000},{"Dp":145.9,"r":7,"N":636000},{"Dp":151.2,"r":7,"N":591000},{"Dp":156.8,"r":7,"N":546000},{"Dp":162.5,"r":7,"N":500000},{"Dp":168.5,"r":7,"N":455000},{"Dp":174.7,"r":7,"N":412000},{"Dp":181.1,"r":7,"N":370000},{"Dp":187.7,"r":7,"N":330000},{"Dp":194.6,"r":7,"N":293000},{"Dp":201.7,"r":7,"N":257000},{"Dp":209.1,"r":7,"N":224000},{"Dp":216.7,"r":7,"N":194000},{"Dp":224.7,"r":7,"N":167000},{"Dp":232.9,"r":7,"N":143000},{"Dp":241.4,"r":7,"N":122000},{"Dp":250.3,"r":7,"N":103000},{"Dp":259.5,"r":7,"N":86000},{"Dp":269,"r":7,"N":71600},{"Dp":278.8,"r":7,"N":59300},{"Dp":289,"r":7,"N":48600},{"Dp":299.6,"r":7,"N":39500},{"Dp":310.6,"r":7,"N":32000},{"Dp":322,"r":7,"N":25700},{"Dp":333.8,"r":7,"N":20500},{"Dp":346,"r":7,"N":16200},{"Dp":358.7,"r":7,"N":12800},{"Dp":371.8,"r":7,"N":10000},{"Dp":385.4,"r":7,"N":7700},{"Dp":399.5,"r":7,"N":5900},
{"Dp":10.2,"r":8,"N":2100},{"Dp":10.6,"r":8,"N":2500},{"Dp":10.9,"r":8,"N":3100},{"Dp":11.3,"r":8,"N":3900},{"Dp":11.8,"r":8,"N":4700},{"Dp":12.2,"r":8,"N":5900},{"Dp":12.6,"r":8,"N":7100},{"Dp":13.1,"r":8,"N":8700},{"Dp":13.6,"r":8,"N":10600},{"Dp":14.1,"r":8,"N":12800},{"Dp":14.6,"r":8,"N":15400},{"Dp":15.1,"r":8,"N":18500},{"Dp":15.7,"r":8,"N":22100},{"Dp":16.3,"r":8,"N":26200},{"Dp":16.8,"r":8,"N":31200},{"Dp":17.5,"r":8,"N":36700},{"Dp":18.1,"r":8,"N":43100},{"Dp":18.8,"r":8,"N":50500},{"Dp":19.5,"r":8,"N":58900},{"Dp":20.2,"r":8,"N":68500},{"Dp":20.9,"r":8,"N":79400},{"Dp":21.7,"r":8,"N":91500},{"Dp":22.5,"r":8,"N":105000},{"Dp":23.3,"r":8,"N":121000},{"Dp":24.1,"r":8,"N":137000},{"Dp":25,"r":8,"N":155000},{"Dp":25.9,"r":8,"N":176000},{"Dp":26.9,"r":8,"N":198000},{"Dp":27.9,"r":8,"N":223000},{"Dp":28.9,"r":8,"N":248000},{"Dp":30,"r":8,"N":277000},{"Dp":31.1,"r":8,"N":307000},{"Dp":32.2,"r":8,"N":339000},{"Dp":33.4,"r":8,"N":374000},{"Dp":34.6,"r":8,"N":409000},{"Dp":35.9,"r":8,"N":447000},{"Dp":37.2,"r":8,"N":485000},{"Dp":38.5,"r":8,"N":527000},{"Dp":40,"r":8,"N":568000},{"Dp":41.4,"r":8,"N":611000},{"Dp":42.9,"r":8,"N":654000},{"Dp":44.5,"r":8,"N":697000},{"Dp":46.1,"r":8,"N":741000},{"Dp":47.8,"r":8,"N":784000},{"Dp":49.6,"r":8,"N":827000},{"Dp":51.4,"r":8,"N":868000},{"Dp":53.3,"r":8,"N":907000},{"Dp":55.2,"r":8,"N":946000},{"Dp":57.3,"r":8,"N":982000},{"Dp":59.4,"r":8,"N":1015000},{"Dp":61.5,"r":8,"N":1045000},{"Dp":63.8,"r":8,"N":1072000},{"Dp":66.1,"r":8,"N":1095000},{"Dp":68.5,"r":8,"N":1114000},{"Dp":71,"r":8,"N":1130000},{"Dp":73.7,"r":8,"N":1141000},{"Dp":76.4,"r":8,"N":1148000},{"Dp":79.1,"r":8,"N":1150000},{"Dp":82,"r":8,"N":1146000},{"Dp":85.1,"r":8,"N":1134000},{"Dp":88.2,"r":8,"N":1114000},{"Dp":91.4,"r":8,"N":1088000},{"Dp":94.7,"r":8,"N":1055000},{"Dp":98.2,"r":8,"N":1015000},{"Dp":101.8,"r":8,"N":971000},{"Dp":105.5,"r":8,"N":921000},{"Dp":109.4,"r":8,"N":868000},{"Dp":113.4,"r":8,"N":813000},{"Dp":117.6,"r":8,"N":756000},{"Dp":121.9,"r":8,"N":697000},{"Dp":126.3,"r":8,"N":639000},{"Dp":131,"r":8,"N":582000},{"Dp":135.8,"r":8,"N":527000},{"Dp":140.7,"r":8,"N":473000},{"Dp":145.9,"r":8,"N":422000},{"Dp":151.2,"r":8,"N":374000},{"Dp":156.8,"r":8,"N":329000},{"Dp":162.5,"r":8,"N":286000},{"Dp":168.5,"r":8,"N":248000},{"Dp":174.7,"r":8,"N":214000},{"Dp":181.1,"r":8,"N":183000},{"Dp":187.7,"r":8,"N":155000},{"Dp":194.6,"r":8,"N":131000},{"Dp":201.7,"r":8,"N":110000},{"Dp":209.1,"r":8,"N":91500},{"Dp":216.7,"r":8,"N":75800},{"Dp":224.7,"r":8,"N":62100},{"Dp":232.9,"r":8,"N":50500},{"Dp":241.4,"r":8,"N":40800},{"Dp":250.3,"r":8,"N":32800},{"Dp":259.5,"r":8,"N":26200},{"Dp":269,"r":8,"N":20700},{"Dp":278.8,"r":8,"N":16300},{"Dp":289,"r":8,"N":12800},{"Dp":299.6,"r":8,"N":9900},{"Dp":310.6,"r":8,"N":7600},{"Dp":322,"r":8,"N":5900},{"Dp":333.8,"r":8,"N":4500},{"Dp":346,"r":8,"N":3300},{"Dp":358.7,"r":8,"N":2500},{"Dp":371.8,"r":8,"N":1800},{"Dp":385.4,"r":8,"N":1400},{"Dp":399.5,"r":8,"N":1000}
]
},
"encoding":{
"x":{"field":"Dp","type":"quantitative","scale":{"type":"log","domain":[10,1000],"nice":false},
"axis":{"values":[10,20,30,40,50,60,70,80,90,100,200,300,400,500,600,700,800,900,1000],
"labelExpr":"indexof([10,100,1000],datum.value)>=0 ? format(datum.value,'d') : ''",
"labelOverlap":false,"labelFlush":false,"labelFontSize":12,"labelPadding":6,
"title":"D_p [nm]","titleFontSize":13,"titleFontWeight":"bold","titlePadding":11,
"grid":true,"gridColor":"black","gridWidth":1,"gridOpacity":{"condition":{"test":"datum.value==100","value":1},"value":0},
"tickSize":{"condition":{"test":"indexof([10,100,1000],datum.value)>=0","value":6},"value":4},"tickWidth":1.5,"domainWidth":2}},
"y":{"field":"N","type":"quantitative","scale":{"domain":[0,1600000],"nice":false},
"axis":{"values":[0,200000,400000,600000,800000,1000000,1200000,1400000,1600000],
"labelExpr":"datum.value==0 ? '0.00E+00' : (datum.value<1000000 ? format(datum.value/100000,'.2f')+'E+05' : format(datum.value/1000000,'.2f')+'E+06')",
"labelFontSize":13,"labelPadding":4,"tickSize":5,"tickWidth":1,
"title":"dN/dlog(D_p) [#/cm^3]","titleFontSize":13,"titleFontWeight":"bold","titlePadding":11,
"grid":true,"gridColor":"black","gridWidth":{"condition":{"test":"datum.value==1600000","value":2},"value":1},"domainWidth":2}}
},
"layer":[
{"data":{"name":"runs"},"mark":{"type":"point","shape":"diamond","filled":true,"fill":"white","size":34,"stroke":"#000080","strokeWidth":1.5,"opacity":1},"encoding":{"detail":{"field":"r","type":"nominal"}}},
{"data":{"name":"filled"},"mark":{"type":"errorbar","ticks":{"size":7,"color":"black"},"color":"black","thickness":1},"encoding":{"yError":{"field":"err"}}},
{"data":{"name":"filled"},"mark":{"type":"point","shape":"diamond","filled":true,"size":52,"stroke":"#000080","strokeWidth":1,"opacity":1},
"encoding":{"fill":{"field":"s","type":"nominal","scale":{"domain":["D","C","W"],"range":["#0000FF","#00FF00","#FF0000"]},
"legend":{"orient":"none","legendX":5,"legendY":464,"direction":"horizontal","columns":3,"title":null,"symbolType":"diamond","symbolSize":64,"symbolStrokeColor":"#000080","symbolStrokeWidth":1,"labelFontSize":16,"labelFont":"Liberation Sans","labelColor":"black","labelOffset":4,"labelLimit":0,"columnPadding":19,
"labelExpr":"datum.value=='D' ? '#1 Diesel with Muffler' : (datum.value=='C' ? 'PuriNOx Cold-Weather with Muffler' : 'PuriNOx Warm-Weather with Muffler')"}}}}
]
}
